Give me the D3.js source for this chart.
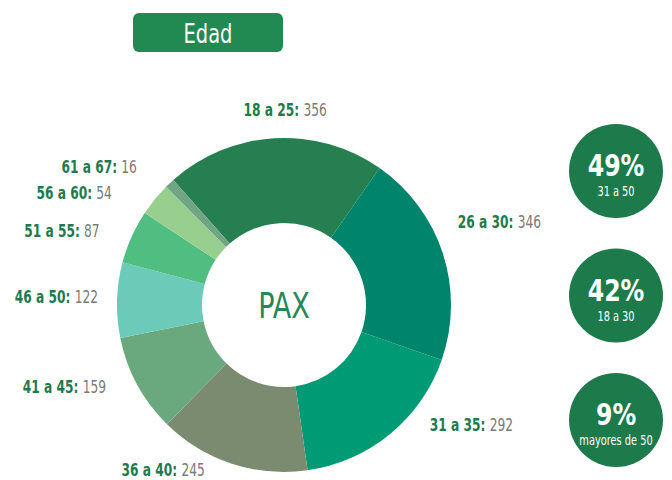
<!DOCTYPE html>
<html>
<head>
<meta charset="utf-8">
<script src="https://cdn.jsdelivr.net/npm/d3@7"></script>
<style>
  body { margin: 0; background: #fff; }
  svg { display: block; font-family: "DejaVu Sans Condensed", "DejaVu Sans", sans-serif; }
  .lbl-key { font-weight: bold; fill: #1f7a4d; }
  .lbl-val { fill: #7a7a7a; }
</style>
</head>
<body>
<div id="chart"></div>
<script>

// age groups and passengers
var ages = ["18 a 25", "26 a 30", "31 a 35", "36 a 40", "41 a 45", "46 a 50", "51 a 55", "56 a 60", "61 a 67"];
var pax = [356, 346, 292, 245, 159, 122, 87, 54, 16];
var colors = ["#267f50", "#00846b", "#009b74", "#7b8b6f", "#6aa87e", "#6ccab9", "#4fbe80", "#96cf8e", "#6fa583"];

// summary bubbles: which age groups go in each one
var groupNames = ["31 a 50", "18 a 30", "mayores de 50"];
var groupMembers = [[2, 3, 4, 5], [0, 1], [6, 7, 8]];

// label nudges from the label arc (layout only)
var labelNudge = [[12, -5], [-7, -24], [25, -27], [-20, -15], [-11, -8], [4, -2], [-11, 4], [-25, 8], [-17, 1]];

var width = 672, height = 480;
var cx = 284, cy = 305;
var outerR = 167, innerR = 82;
var squeeze = 0.8; // fake a condensed face

var svg = d3.select("#chart")
    .append("svg")
    .attr("width", width)
    .attr("height", height);

// title box
var title = svg.append("g").attr("transform", "translate(208,33)");
title.append("rect")
    .attr("x", -75).attr("y", -20)
    .attr("width", 150).attr("height", 39)
    .attr("rx", 6)
    .style("fill", "#218a52");
title.append("text")
    .text("Edad")
    .attr("text-anchor", "middle")
    .attr("dy", "0.36em")
    .attr("transform", "scale(" + squeeze + ",1)")
    .style("font-size", "27px")
    .style("fill", "#fff");

// donut
var data = ages.map(function (a, i) { return { age: a, pax: pax[i], i: i }; });

var pie = d3.pie()
    .sort(null)
    .startAngle(-41.5 * Math.PI / 180)
    .endAngle((360 - 41.5) * Math.PI / 180)
    .value(function (d) { return d.pax; });

var arc = d3.arc().innerRadius(innerR).outerRadius(outerR);
var labelArc = d3.arc().innerRadius(190).outerRadius(190);

var donut = svg.append("g").attr("transform", "translate(" + cx + "," + cy + ")");

var arcs = pie(data);

donut.selectAll(".slice")
    .data(arcs)
    .enter()
    .append("path")
    .attr("class", "slice")
    .attr("d", arc)
    .style("fill", function (d) { return colors[d.data.i]; });

donut.append("text")
    .text("PAX")
    .attr("text-anchor", "middle")
    .attr("dy", "0.36em")
    .attr("transform", "scale(0.86,1)")
    .style("font-size", "35px")
    .style("fill", "#23875a");

var labels = donut.selectAll(".lbl")
    .data(arcs)
    .enter()
    .append("text")
    .attr("class", "lbl")
    .attr("transform", function (d) {
        var c = labelArc.centroid(d), n = labelNudge[d.data.i];
        return "translate(" + (c[0] + n[0]) + "," + (c[1] + n[1]) + ") scale(" + squeeze + ",1)";
    })
    .attr("dy", "0.35em")
    .attr("text-anchor", function (d) {
        var mid = (d.startAngle + d.endAngle) / 2;
        if (Math.abs(mid) < 0.2) return "middle";
        return Math.sin(mid) > 0 ? "start" : "end";
    })
    .style("font-size", "17px");

labels.append("tspan").attr("class", "lbl-key").text(function (d) { return d.data.age + ": "; });
labels.append("tspan").attr("class", "lbl-val").text(function (d) { return d.data.pax; });

// summary bubbles
var total = d3.sum(pax);
var groups = groupNames.map(function (g, i) {
    return { name: g, pct: Math.round(100 * d3.sum(groupMembers[i], function (k) { return pax[k]; }) / total) };
});

var by = d3.scalePoint().domain(groupNames).range([171, 420]);

var bubble = svg.selectAll(".bubble")
    .data(groups)
    .enter()
    .append("g")
    .attr("class", "bubble")
    .attr("transform", function (d) { return "translate(616," + by(d.name) + ")"; });

bubble.append("circle")
    .attr("r", 47)
    .style("fill", "#1d7a4b");

bubble.append("text")
    .text(function (d) { return d.pct + "%"; })
    .attr("text-anchor", "middle")
    .attr("transform", "translate(0,5) scale(0.85,1)")
    .style("font-size", "31px")
    .style("font-weight", "bold")
    .style("fill", "#fff");

bubble.append("text")
    .text(function (d) { return d.name; })
    .attr("text-anchor", "middle")
    .attr("transform", "translate(0,25) scale(0.78,1)")
    .style("font-size", "14px")
    .style("fill", "#fff");

</script>
</body>
</html>
